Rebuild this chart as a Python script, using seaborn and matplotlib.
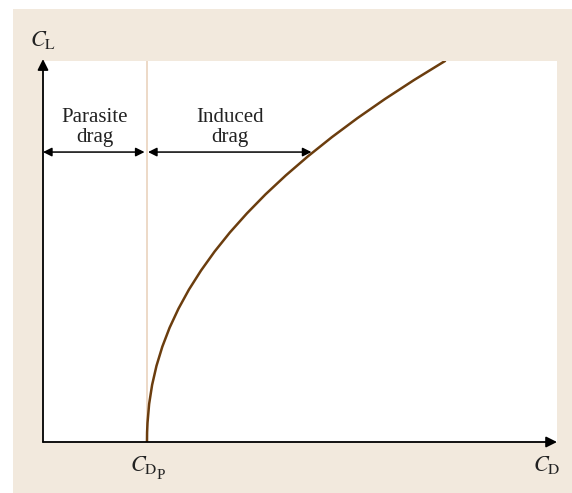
import matplotlib.pyplot as plt
import matplotlib.patches as mpatches
import seaborn as sns
import pandas as pd

# Drag polar (axis units 0..1)
cl_values = [0.0, 0.025, 0.05, 0.1, 0.15, 0.2, 0.25, 0.3, 0.35, 0.4, 0.45, 0.5,
             0.55, 0.6, 0.65, 0.7, 0.75, 0.8, 0.85, 0.9, 0.95, 1.0]
cd_values = [0.2023, 0.2025, 0.2033, 0.2065, 0.2123, 0.2208, 0.2321, 0.2463, 0.2636,
             0.2839, 0.3074, 0.3339, 0.3636, 0.3967, 0.4329, 0.4726, 0.5156, 0.5619,
             0.6117, 0.6650, 0.7218, 0.7821]
cd_parasite = 0.2023
arrow_cl = 0.761
arrow_cd_end = 0.525
region_labels = ['Parasite\ndrag', 'Induced\ndrag']

sns.set_style("white")
plt.rcParams['mathtext.fontset'] = 'stix'
plt.rcParams['font.family'] = ['Liberation Serif', 'DejaVu Serif']

beige = '#f2e9dd'
curve_color = '#6b3d0e'
txt = '#222222'

fig = plt.figure(figsize=(5.72, 4.93), dpi=100)
fig.patch.set_facecolor('white')
fig.patches.append(mpatches.Rectangle((13 / 572, 0), 1 - 13 / 572, 1 - 9 / 493,
                                      transform=fig.transFigure, facecolor=beige,
                                      edgecolor='none', zorder=-5))
ax = fig.add_axes([43 / 572, 51 / 493, 514 / 572, 381 / 493])
ax.set_facecolor('white')
ax.set_xlim(0, 1)
ax.set_ylim(0, 1)
for s in ax.spines.values():
    s.set_visible(False)
ax.set_xticks([])
ax.set_yticks([])

# parasite drag boundary
ax.axvline(cd_parasite, color='#ead3bd', lw=1.2, zorder=1)

df = pd.DataFrame({'CD': cd_values, 'CL': cl_values})
sns.lineplot(data=df, x='CD', y='CL', color=curve_color, lw=1.8, sort=False,
             estimator=None, ax=ax, zorder=3)
ax.set_xlabel('')
ax.set_ylabel('')

# axes with arrows
arrow_kw = dict(arrowstyle='-|>', color='black', lw=1.3, mutation_scale=16,
                shrinkA=0, shrinkB=0)
ax.annotate('', xy=(1.0, 0), xytext=(0, 0), xycoords='axes fraction',
            arrowprops=arrow_kw, annotation_clip=False, zorder=5)
ax.annotate('', xy=(0, 1.005), xytext=(0, 0), xycoords='axes fraction',
            arrowprops=arrow_kw, annotation_clip=False, zorder=5)

# double arrows for drag regions
dbl_kw = dict(arrowstyle='<|-|>', color='black', lw=1.1, mutation_scale=13,
              shrinkA=0, shrinkB=1)
ax.annotate('', xy=(cd_parasite - 0.002, arrow_cl), xytext=(0, arrow_cl),
            arrowprops=dbl_kw, zorder=4)
ax.annotate('', xy=(arrow_cd_end, arrow_cl), xytext=(cd_parasite + 0.002, arrow_cl),
            arrowprops=dbl_kw, zorder=4)

ax.text(cd_parasite / 2, 0.825, region_labels[0], ha='center', va='center',
        fontsize=15, linespacing=1.05, color=txt)
ax.text((cd_parasite + arrow_cd_end) / 2, 0.825, region_labels[1], ha='center',
        va='center', fontsize=15, linespacing=1.05, color=txt)

# axis labels
ax.text(0, 1.055, r'$C_{\mathrm{L}}$', ha='center', va='center', fontsize=16,
        transform=ax.transAxes, color=txt)
ax.text(0.98, -0.06, r'$C_{\mathrm{D}}$', ha='center', va='center', fontsize=16,
        transform=ax.transAxes, color=txt)
ax.annotate(r'$C_{\mathrm{D}}$', xy=(cd_parasite, 0), xytext=(7.2, -16.6),
            textcoords='offset points', ha='right', va='center', fontsize=16,
            color=txt, annotation_clip=False)
ax.annotate('P', xy=(cd_parasite, 0), xytext=(7.0, -26.5),
            textcoords='offset points', ha='left', va='baseline', fontsize=11,
            color=txt, annotation_clip=False)

plt.savefig('out.png', dpi=100, facecolor=fig.get_facecolor())
